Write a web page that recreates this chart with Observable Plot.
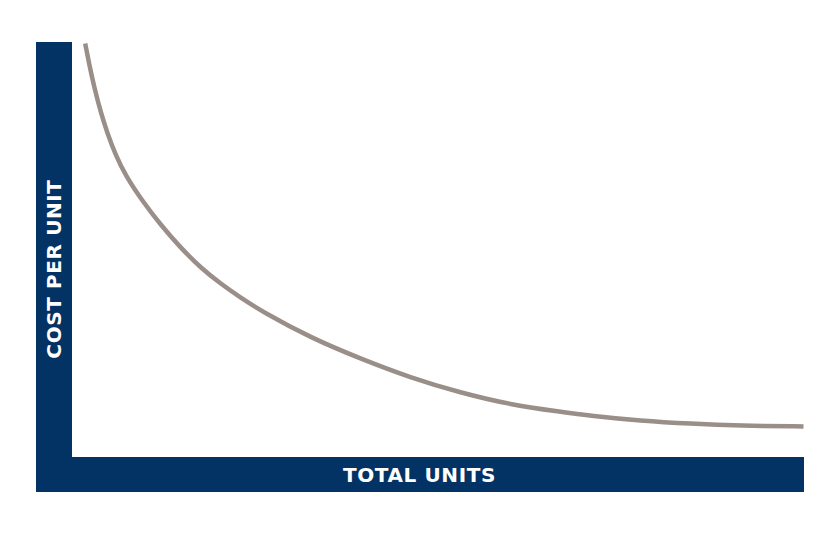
<!DOCTYPE html>
<html>
<head>
<meta charset="utf-8">
<script src="https://cdn.jsdelivr.net/npm/d3@7"></script>
<script src="https://cdn.jsdelivr.net/npm/@observablehq/plot@0.6"></script>
<style>
  html, body { margin: 0; padding: 0; background: #ffffff; }
  svg { display: block; }
</style>
</head>
<body>
<div id="chart"></div>
<script>
// Total units (arbitrary 0–100 scale) and cost per unit (arbitrary 0–100 scale)
const units = [1.73, 2.32, 3.01, 3.83, 4.78, 5.87, 7.24, 9.70, 12.02, 14.75, 17.49, 20.22, 22.95, 25.96, 32.51, 39.34, 46.17, 53.01, 59.84, 66.67, 70.77, 77.60, 84.43, 91.26, 99.86];
const cost  = [99.76, 94.45, 88.91, 83.36, 78.05, 72.99, 67.93, 61.42, 56.12, 50.57, 45.75, 41.89, 38.51, 35.13, 28.86, 23.80, 19.22, 15.60, 12.71, 11.02, 10.05, 8.85, 8.13, 7.65, 7.48];
const xLabel = "TOTAL UNITS";
const yLabel = "COST PER UNIT";

const data = units.map((u, i) => ({units: u, cost: cost[i]}));
const navy = "#023364";
const labelStyle = {fill: "white", fontWeight: "bold", fontSize: 20, fontFamily: "'DejaVu Sans', sans-serif", textAnchor: "middle", lineAnchor: "middle"};

const plot = Plot.plot({
  width: 840,
  height: 533,
  marginLeft: 72,
  marginRight: 36,
  marginTop: 42,
  marginBottom: 76,
  style: {background: "transparent", overflow: "visible"},
  x: {domain: [0, 100], axis: null},
  y: {domain: [0, 100], axis: null},
  marks: [
    // vertical axis bar
    Plot.rect([0], {x1: 0, x2: 0, y1: 0, y2: 100, insetLeft: -36, insetBottom: -35, fill: navy}),
    // horizontal axis bar
    Plot.rect([0], {x1: 0, x2: 100, y1: 0, y2: 0, insetLeft: -36, insetBottom: -35, fill: navy}),
    Plot.text([yLabel], {frameAnchor: "left", text: d => d, rotate: -90, dx: -18, dy: 19, ...labelStyle}),
    Plot.text([xLabel], {frameAnchor: "bottom", text: d => d, dx: -19, dy: 18, ...labelStyle}),
    Plot.line(data, {x: "units", y: "cost", curve: "basis", stroke: "#9a8e89", strokeWidth: 4.5, strokeLinecap: "butt"})
  ]
});
plot.querySelectorAll("text").forEach(t => t.setAttribute("letter-spacing", "0.6"));
document.getElementById("chart").appendChild(plot);
</script>
</body>
</html>
